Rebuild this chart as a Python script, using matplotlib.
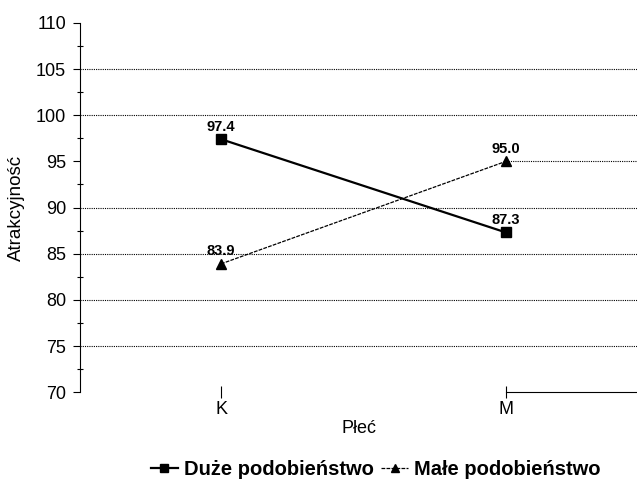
import matplotlib
matplotlib.use("Agg")
import matplotlib.pyplot as plt
from matplotlib.ticker import MultipleLocator

plt.rcParams['font.family'] = ['Liberation Sans', 'DejaVu Sans']

# dane
plec = ['K', 'M']
duze = [97.4, 87.3]
male = [83.9, 95.0]
siatka = [75, 80, 85, 90, 100, 105]

fig = plt.figure(figsize=(6.37, 4.86), dpi=100)
ax = fig.add_axes([0.1256, 0.193, 0.8744, 0.76])

x = list(range(len(plec)))
ax.set_xlim(-0.495, 1.46)
ax.set_ylim(70, 110)

# linie siatki (kropkowane)
for v in siatka:
    ax.axhline(v, color='black', lw=0.8, ls=(0, (1, 1)), zorder=1)
ax.hlines(95, x[1], 1.46, color='black', lw=0.8, ls=(0, (1, 1)), zorder=1)

ax.plot(x, duze, color='black', lw=1.6, marker='s', markersize=7,
        label='Duże podobieństwo', zorder=3)
ax.plot(x, male, color='black', lw=0.9, ls=(0, (3, 1)), marker='^',
        markersize=7, label='Małe podobieństwo', zorder=3)

for xi, v in zip(x, duze):
    ax.annotate(f'{v:.1f}', (xi, v), xytext=(0, 4), textcoords='offset points',
                ha='center', va='bottom', fontsize=10.5, fontweight='bold')
for xi, v in zip(x, male):
    ax.annotate(f'{v:.1f}', (xi, v), xytext=(0, 4), textcoords='offset points',
                ha='center', va='bottom', fontsize=10.5, fontweight='bold')

# osie
ax.spines['top'].set_visible(False)
ax.spines['right'].set_visible(False)
ax.spines['bottom'].set_bounds(x[1], 1.46)
ax.spines['left'].set_linewidth(0.8)
ax.spines['bottom'].set_linewidth(0.8)

ax.set_xticks(x)
ax.set_xticklabels(plec, fontsize=13)
ax.tick_params(axis='x', direction='inout', length=8, width=0.8, pad=2)
ax.yaxis.set_major_locator(MultipleLocator(5))
ax.yaxis.set_minor_locator(MultipleLocator(2.5))
ax.tick_params(axis='y', which='major', direction='out', length=5, width=0.8,
               labelsize=13, pad=5)
ax.tick_params(axis='y', which='minor', direction='inout', length=5, width=0.8)

ax.set_xlabel('Płeć', fontsize=13, labelpad=2)
ax.set_ylabel('Atrakcyjność', fontsize=13.5, labelpad=8)

ax.legend(loc='upper center', bbox_to_anchor=(0.531, -0.135), ncol=2,
          frameon=False, handlelength=1.3, handletextpad=0.3, columnspacing=0.4,
          markerscale=0.75, prop={'weight': 'bold', 'size': 14.5})

fig.savefig('out.png', dpi=100)
